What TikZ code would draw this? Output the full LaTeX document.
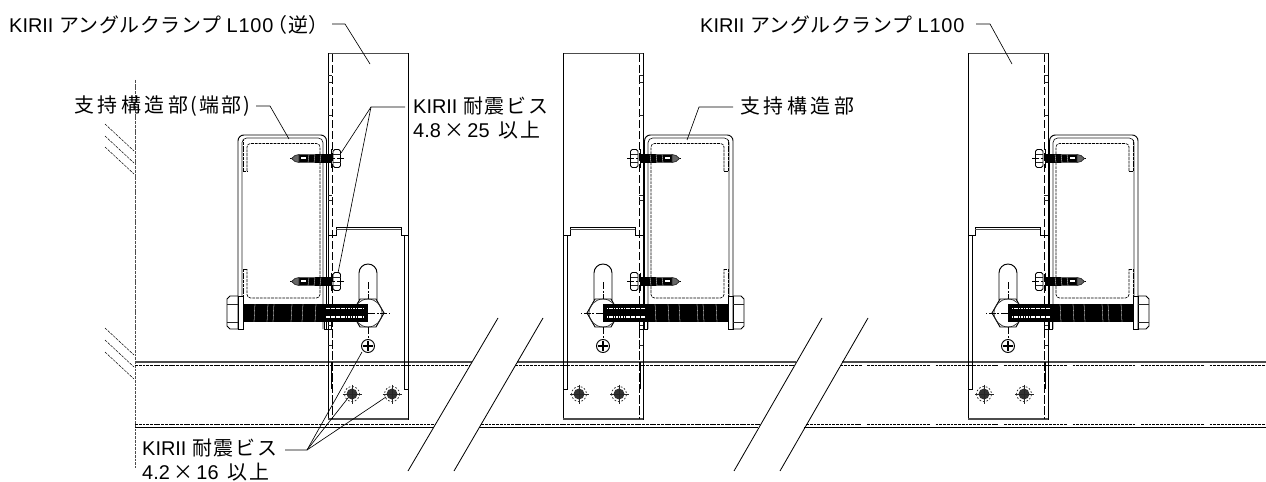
\documentclass[tikz,border=0pt]{standalone}
\usepackage{fontspec}
\setmainfont{Liberation Sans}
\newfontfamily\wideL[LetterSpace=4]{Liberation Sans}
\newfontfamily\jpfont[LetterSpace=3]{Noto Sans CJK JP}
\newfontfamily\jpmid[LetterSpace=10]{Noto Sans CJK JP}
\newfontfamily\jpwide[LetterSpace=18]{Noto Sans CJK JP}
\newcommand{\jp}[1]{{\fontsize{17}{20}\jpfont #1}}
\newcommand{\jm}[1]{{\fontsize{17}{20}\jpmid #1}}
\newcommand{\jw}[1]{{\fontsize{17}{20}\jpwide #1}}
\tikzset{
mainline/.style={line width=0.8pt,black},
outline/.style={line width=1.1pt,black!70},
fineline/.style={line width=0.6pt,black!85},
hiddenline/.style={line width=0.55pt,black,dash pattern=on 2.4pt off 0.8pt},
longdash/.style={line width=0.7pt,black,dash pattern=on 7pt off 2.4pt},
centerline/.style={line width=0.4pt,black,dash pattern=on 6pt off 1.5pt on 1.5pt off 1.5pt},
leaderline/.style={line width=0.55pt,black},
breakline/.style={line width=0.7pt,black},
label/.style={inner sep=0pt,anchor=west,align=left,font=\fontsize{17}{20}\selectfont},
}
\newcommand{\clampunit}{
\draw [outline](328,53.5) -- (408,53.5);
\draw [mainline](328,53.5) -- (328,419) -- (408,419) -- (408,53.5);
\draw [outline](328,419) -- (408,419);
\draw [longdash](332,54) -- (332,419);
\foreach \ty in {75,82,115,195,200,325,345}
  \draw [fineline](328,\ty) -- (332,\ty);
\draw [mainline](328,235) -- (336,235) -- (336,227) -- (401,227) -- (401,235) -- (408,235);
\draw [outline,line width=0.7pt](336,229.5) -- (401,229.5);
\draw [mainline](404,235) -- (404,389) -- (408,389);
\draw [mainline](331,362) -- (331,389);
\draw [mainline,rounded corners=5pt](238,329) -- (238,135) -- (326.5,135) -- (326.5,329);
\draw [fineline,rounded corners=4pt](242,296) -- (242,138) -- (323,138) -- (323,329);
\draw [hiddenline,rounded corners=3pt](247,171) -- (247,143.5) -- (320,143.5) -- (320,298) -- (247,298) -- (247,269);
\draw [hiddenline](243,171) -- (243,140);
\draw [hiddenline](243,171) -- (247,171);
\draw [hiddenline](243,298) -- (243,269) -- (247,269);
\foreach \sy in {158.5,281.5}{
  \draw [centerline](344,\sy) -- (290,\sy);
  \fill [black](331,\sy-4.5) -- (299,\sy-4) -- (299,\sy+4) -- (331,\sy+4.5) -- cycle;
  \draw [fineline,fill=black!60](299,\sy-4) -- (295,\sy-3) -- (291.5,\sy) -- (295,\sy+3) -- (299,\sy+4) -- cycle;
  \fill [white](301,\sy-1.5) rectangle (306,\sy);
  \foreach \kx in {309,315,321}
    \draw [white,line width=0.25pt](\kx,\sy-4) -- (\kx-1,\sy+4);
  \draw [mainline,rounded corners=1.5pt](333,\sy-9) rectangle (340.5,\sy+9);
  \draw [fineline](333,\sy-4) -- (340.5,\sy-4);
  \draw [fineline](333,\sy+4) -- (340.5,\sy+4);
  \draw [mainline](331,\sy-9) -- (331,\sy+9);
}
\draw [mainline](359,300) -- (359,273) arc (180:360:9) -- (377,300);
\draw [mainline](384,313) -- (376,299) -- (360,299) -- (352,313) -- (360,327) -- (376,327) -- cycle;
\draw [fineline](368,313) circle (14);
\draw [mainline](238,296) -- (230,296) -- (227,299) -- (227,326) -- (230,329) -- (238,329);
\draw [mainline](238,296) rectangle (243,329);
\draw [fineline](227,304) -- (238,304);
\draw [fineline](227,322) -- (238,322);
\draw [mainline](324,322) -- (324,329) -- (331.5,329) -- (331.5,322);
\fill [black](243,304) rectangle (368,322);
\foreach \tx in {255,268,274,292,303,316}
  \draw [white,line width=0.25pt](\tx,304) -- (\tx-1,322);
\draw [white,line width=1pt,dash pattern=on 1.5pt off 0.6pt](326,308.5) -- (364,308.5);
\draw [white,line width=1pt,dash pattern=on 1.5pt off 0.6pt](326,317) -- (364,317);
\draw [centerline](368,282) -- (368,299);
\draw [centerline](368,327) -- (368,340);
\draw [centerline](368,313) -- (390,313);
\draw [mainline](368,346) circle (6.5);
\draw [line width=1.1pt,black](363,346) -- (373,346);
\draw [line width=1.1pt,black](368,341) -- (368,351);
\foreach \bx in {352,392}{
  \fill [black!80](\bx,394) circle (5.5);
  \draw [fineline](\bx-9.5,394) -- (\bx+9.5,394);
  \draw [fineline](\bx,384.5) -- (\bx,403.5);
  \draw [fineline,dash pattern=on 1.5pt off 1.5pt](\bx,394) circle (7.5);
}
}
\begin{document}
\begin{tikzpicture}[x=0.03cm,y=-0.03cm]
\useasboundingbox (0,0) rectangle (1266,482);
\draw [hiddenline,black!70](135,80) -- (135,468);
\foreach \hy in {124,136,147,328,340,352}
  \draw [hiddenline,line width=0.4pt](105,\hy) -- (134,\hy+27);
\draw [outline](135,362) -- (472,362);
\draw [outline](517,362) -- (796,362);
\draw [outline](842,362) -- (1266,362);
\draw [hiddenline](135,365) -- (470,365);
\draw [hiddenline](515,365) -- (794,365);
\draw [mainline](135,427.5) -- (434,427.5);
\draw [mainline](479,427.5) -- (758,427.5);
\draw [mainline](804,427.5) -- (1266,427.5);
\draw [hiddenline](135,424.5) -- (435,424.5);
\draw [hiddenline](481,424.5) -- (760,424.5);
\draw [hiddenline](806,424.5) -- (862,424.5);
\draw [hiddenline](840,365) -- (862,365);
\foreach \rx in {867,935.5,1004,1072.5,1141,1209.5}{
  \draw [hiddenline](\rx,365) -- (\rx+62.5,365);
  \draw [hiddenline](\rx,424.5) -- (\rx+62.5,424.5);
}
\draw [breakline](408,471) -- (498,318);
\draw [breakline](454,471) -- (543,318);
\draw [breakline](734,471) -- (822,318);
\draw [breakline](780,471) -- (868,318);
\clampunit
\begin{scope}[shift={(971,0)},xscale=-1]
\clampunit
\end{scope}
\begin{scope}[shift={(1376,0)},xscale=-1]
\clampunit
\end{scope}
\node [label] (anglerev) at (9,25) {KIRII \jp{アングルクランプ} {\wideL L100}\hspace{-5pt}\jp{（逆）}};
\node [label] (anglenorm) at (700,25) {KIRII \jp{アングルクランプ} {\wideL L100}};
\node [label] (supportend) at (74,106) {\jw{支持構造部}\hspace{2pt}\jm{(端部)}};
\node [label] (supportmid) at (740,106) {\jw{支持構造部}};
\node [label] (screwtop) at (413,118) {KIRII \jm{耐震ビス}\\4.8\,\jp{×}\,25\, \jm{以上}};
\node [label] (screwlow) at (142,460) {KIRII \jm{耐震ビス}\\4.2\,\jp{×}\,16\, \jm{以上}};
\coordinate (anglerevstart) at (332,24);
\coordinate (anglerevknee) at (345,24);
\coordinate (anglerevend) at (370,64);
\coordinate (anglenormstart) at (976,24);
\coordinate (anglenormknee) at (990,24);
\coordinate (anglenormend) at (1012,64);
\coordinate (supportendstart) at (256,106);
\coordinate (supportendknee) at (270,106);
\coordinate (supportendtip) at (289,139);
\coordinate (supportmidstart) at (733,107);
\coordinate (supportmidknee) at (699,107);
\coordinate (supportmidtip) at (687,140);
\coordinate (screwtopstart) at (405,107);
\coordinate (screwtopknee) at (371,107);
\coordinate (screwtopa) at (341,153);
\coordinate (screwtopb) at (338,273);
\coordinate (screwlowstart) at (285,450);
\coordinate (screwlowknee) at (307,450);
\coordinate (screwlowa) at (362,352);
\coordinate (screwlowb) at (348,398);
\coordinate (screwlowc) at (386,397);
\draw [leaderline](anglerevstart) -- (anglerevknee) -- (anglerevend);
\draw [leaderline](anglenormstart) -- (anglenormknee) -- (anglenormend);
\draw [leaderline](supportendstart) -- (supportendknee) -- (supportendtip);
\draw [leaderline](supportmidstart) -- (supportmidknee) -- (supportmidtip);
\draw [leaderline](screwtopstart) -- (screwtopknee) -- (screwtopa);
\draw [leaderline](screwtopknee) -- (screwtopb);
\draw [leaderline](screwlowstart) -- (screwlowknee) -- (screwlowa);
\draw [leaderline](screwlowknee) -- (screwlowb);
\draw [leaderline](screwlowknee) -- (screwlowc);
\end{tikzpicture}
\end{document}
